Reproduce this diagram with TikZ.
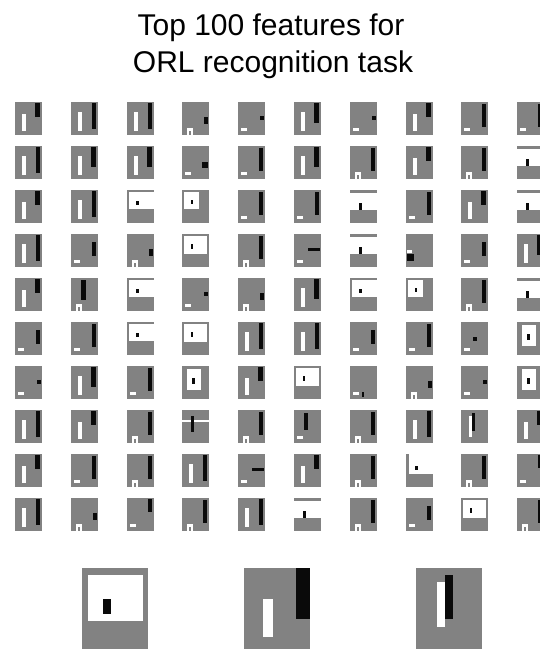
\documentclass[tikz,border=0pt]{standalone}
\usepackage{fontspec}
\setmainfont{Liberation Sans}
\definecolor{tileGray}{RGB}{130,130,130}
\definecolor{posWhite}{RGB}{255,255,255}
\definecolor{negBlack}{RGB}{10,10,10}

% - feature patterns, drawn in tile coordinates (27 x 33) -
\newcommand{\notch}{\fill[posbar] (5,26) rectangle (11,33); \fill[tilebg] (7,29) rectangle (9,33);}
\newcommand{\smallbar}{\fill[posbar] (3,26) rectangle (9,29);}
\newcommand{\feata}{\fill[posbar] (7,12) rectangle (11,29); \fill[negbar] (20,1) rectangle (25,15);}
\newcommand{\featm}{\fill[posbar] (7,10) rectangle (11,29); \fill[negbar] (20,1) rectangle (25,21);}
\newcommand{\featl}{\fill[posbar] (7,10) rectangle (11,29); \fill[negbar] (21,1) rectangle (25,27);}
\newcommand{\featn}{\smallbar \fill[negbar] (21,1) rectangle (25,14);}
\newcommand{\featb}{\smallbar \fill[negbar] (22,14) rectangle (26,18);}
\newcommand{\featq}{\smallbar \fill[negbar] (12,15) rectangle (16,19);}
\newcommand{\featr}{\smallbar \fill[negbar] (21,8) rectangle (25,22);}
\newcommand{\feats}{\smallbar \fill[negbar] (20,16) rectangle (26,22);}
\newcommand{\featk}{\smallbar \fill[negbar] (21,2) rectangle (25,25);}
\newcommand{\featj}{\smallbar \fill[negbar] (10,3) rectangle (14,20);}
\newcommand{\feath}{\smallbar \fill[negbar] (14,14) rectangle (26,17);}
\newcommand{\featu}{\smallbar \fill[negbar] (12,26) rectangle (14,31);}
\newcommand{\featc}{\notch \fill[negbar] (21,2) rectangle (25,25);}
\newcommand{\feati}{\notch \fill[negbar] (10,2) rectangle (15,22);}
\newcommand{\featd}{\notch \fill[negbar] (22,15) rectangle (26,22);}
\newcommand{\featw}{\fill[posbar] (2,2) rectangle (25,20); \fill[negbar] (9,10) rectangle (11,15);}
\newcommand{\featv}{\fill[posbar] (2,2) rectangle (17,19); \fill[negbar] (9,10) rectangle (11,14);}
\newcommand{\feato}{\fill[posbar] (2,2) rectangle (27,19); \fill[negbar] (9,11) rectangle (12,15);}
\newcommand{\featt}{\fill[posbar] (5,3) rectangle (19,24); \fill[negbar] (10,12) rectangle (13,18);}
\newcommand{\feate}{\fill[posbar] (0,3) rectangle (27,20); \fill[negbar] (9,13) rectangle (12,20);}
\newcommand{\featf}{\fill[posbar] (0,10) rectangle (27,12); \fill[negbar] (9,6) rectangle (12,22);}
\newcommand{\featg}{\fill[posbar] (3,0) rectangle (27,20); \fill[negbar] (9,12) rectangle (12,16);}
\newcommand{\featx}{\fill[posbar] (1,16) rectangle (6,19); \fill[negbar] (1,20) rectangle (8,27);}
\newcommand{\featp}{\fill[posbar] (8,6) rectangle (11,27); \fill[negbar] (11,3) rectangle (14,21);}

\begin{document}
\begin{tikzpicture}[
  x=1pt, y=-1pt,
  tilebg/.style={fill=tileGray},
  posbar/.style={fill=posWhite},
  negbar/.style={fill=negBlack},
  heading/.style={font=\fontsize{30}{34}\selectfont, anchor=base, inner sep=0pt}
]
\useasboundingbox (0,0) rectangle (540,651);
\clip (0,0) rectangle (540,651);

% - title -
\node[heading] (title1) at (271,35) {Top 100 features for};
\node[heading] (title2) at (273,72) {ORL recognition task};

% - 10 x 10 grid of selected features -
\foreach \r/\codes in {
  1/{a,l,l,d,b,m,b,a,k,k},
  2/{l,m,m,s,k,m,c,a,c,e},
  3/{a,l,o,v,k,k,e,k,a,e},
  4/{l,r,d,w,c,h,e,x,r,m},
  5/{a,i,o,b,d,m,o,v,c,e},
  6/{r,k,o,w,l,l,r,k,q,t},
  7/{b,m,k,t,a,w,u,d,b,t},
  8/{l,a,c,f,c,j,c,l,p,a},
  9/{a,k,c,l,h,a,c,g,c,n},
  10/{l,d,n,c,l,e,c,r,w,c}} {
  \foreach \t [count=\c] in \codes {
    \begin{scope}[shift={({15+55.8*(\c-1)},{102+44*(\r-1)})}]
      \fill[tilebg] (0,0) rectangle (27,33);
      \csname feat\t\endcsname
    \end{scope}
  }
}

% - three enlarged features -
\begin{scope}[shift={(82,568)}, scale=2.45]
  \fill[tilebg] (0,0) rectangle (27,33);
  \fill[posbar] (2.5,2.8) rectangle (25,21.7);
  \fill[negbar] (8.5,12.5) rectangle (11.7,18.6);
\end{scope}
\begin{scope}[shift={(244,568)}, scale=2.45]
  \fill[tilebg] (0,0) rectangle (27,33);
  \fill[posbar] (7.7,12.5) rectangle (11.7,28);
  \fill[negbar] (21.4,0) rectangle (27,21);
\end{scope}
\begin{scope}[shift={(416,568)}, scale=2.45]
  \fill[tilebg] (0,0) rectangle (27,33);
  \fill[posbar] (8.6,5.6) rectangle (11.7,24);
  \fill[negbar] (11.7,2.8) rectangle (15,21);
\end{scope}
\end{tikzpicture}
\end{document}
